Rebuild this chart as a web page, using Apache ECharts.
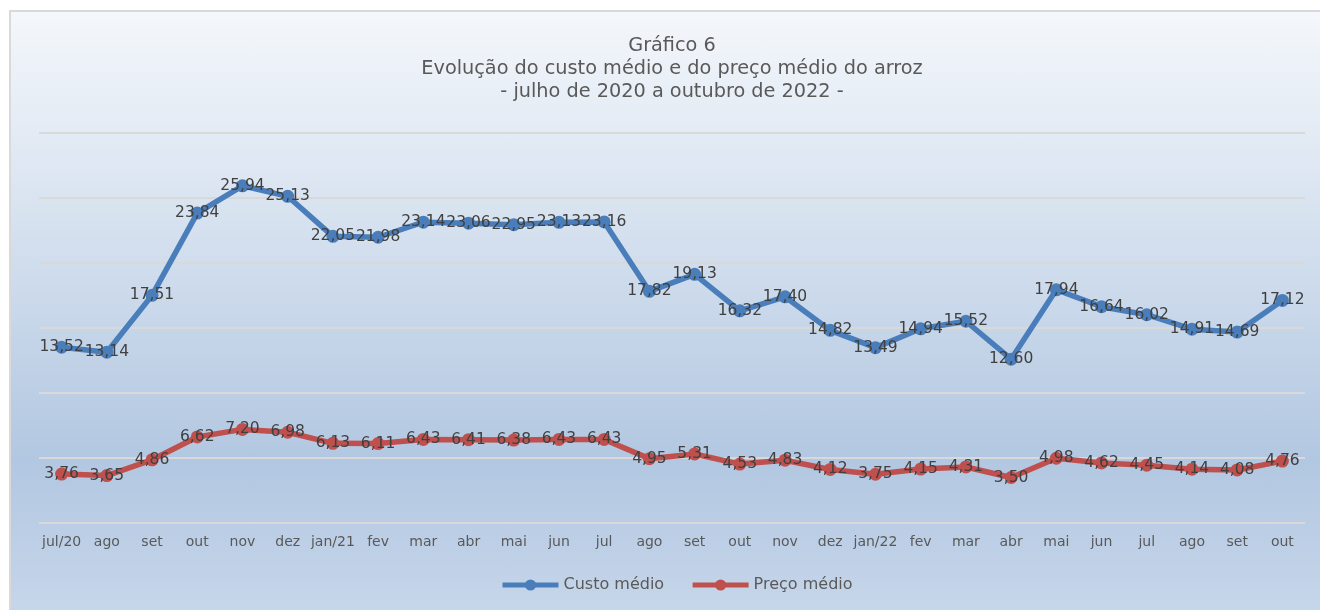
<!DOCTYPE html>
<html>
<head>
<meta charset="utf-8">
<script src="https://cdn.jsdelivr.net/npm/echarts@6/dist/echarts.min.js"></script>
<style>
  html, body { margin: 0; padding: 0; background: #fff; }
  #chart {
    position: absolute; left: 9px; top: 10px; width: 1311px; height: 600px;
    border-left: 2px solid #d9d9d9; border-top: 2px solid #d9d9d9; box-sizing: border-box;
    background: linear-gradient(to bottom, #f4f7fb 0%, #dbe5f1 30%, #b2c7e1 75%, #c6d6ea 100%);
  }
</style>
</head>
<body>
<div id="chart"></div>
<script>
var meses = ['jul/20', 'ago', 'set', 'out', 'nov', 'dez', 'jan/21', 'fev', 'mar', 'abr', 'mai', 'jun', 'jul',
  'ago', 'set', 'out', 'nov', 'dez', 'jan/22', 'fev', 'mar', 'abr', 'mai', 'jun', 'jul', 'ago', 'set', 'out'];
var custoMedio = [13.52, 13.14, 17.51, 23.84, 25.94, 25.13, 22.05, 21.98, 23.14, 23.06, 22.95, 23.13, 23.16,
  17.82, 19.13, 16.32, 17.40, 14.82, 13.49, 14.94, 15.52, 12.60, 17.94, 16.64, 16.02, 14.91, 14.69, 17.12];
var precoMedio = [3.76, 3.65, 4.86, 6.62, 7.20, 6.98, 6.13, 6.11, 6.43, 6.41, 6.38, 6.43, 6.43,
  4.95, 5.31, 4.53, 4.83, 4.12, 3.75, 4.15, 4.31, 3.50, 4.98, 4.62, 4.45, 4.14, 4.08, 4.76];

var fonte = 'Verdana, "DejaVu Sans", sans-serif';
function rotulo(v) { return v.value.toFixed(2).replace('.', ','); }

var grafico = echarts.init(document.getElementById('chart'));
var opcoes = {
  title: {
    text: 'Gráfico 6\nEvolução do custo médio e do preço médio do arroz\n- julho de 2020 a outubro de 2022 -',
    left: 656,
    textAlign: 'center',
    top: 17,
    textStyle: { fontFamily: fonte, fontSize: 19.3, fontWeight: 'normal', color: '#595959', lineHeight: 23 }
  },
  legend: {
    bottom: 12,
    left: 484,
    itemWidth: 56,
    itemHeight: 14,
    itemGap: 26,
    textStyle: { fontFamily: fonte, fontSize: 16, color: '#595959' },
    lineStyle: { width: 5 },
    data: ['Custo médio', 'Preço médio']
  },
  grid: { left: 28, right: 15, top: 121, height: 390 },
  xAxis: {
    type: 'category',
    data: meses,
    boundaryGap: true,
    axisLine: { show: false },
    axisTick: { show: false },
    axisLabel: { fontFamily: fonte, fontSize: 14, color: '#595959', margin: 12, interval: 0 }
  },
  yAxis: {
    type: 'value',
    min: 0,
    max: 30,
    interval: 5,
    axisLabel: { show: false },
    axisLine: { show: false },
    axisTick: { show: false },
    splitLine: { lineStyle: { color: '#d9d9d9', width: 2 } }
  },
  series: [
    {
      name: 'Custo médio',
      type: 'line',
      data: custoMedio,
      color: '#4a7ebb',
      symbol: 'circle',
      symbolSize: 13,
      lineStyle: { width: 5.5 },
      label: { show: true, position: 'inside', formatter: rotulo, fontFamily: fonte, fontSize: 15.5, color: '#404040' }
    },
    {
      name: 'Preço médio',
      type: 'line',
      data: precoMedio,
      color: '#c0504d',
      symbol: 'circle',
      symbolSize: 13,
      lineStyle: { width: 5.5 },
      label: { show: true, position: 'inside', formatter: rotulo, fontFamily: fonte, fontSize: 15.5, color: '#404040' }
    }
  ]
};
grafico.setOption(opcoes);
</script>
</body>
</html>
